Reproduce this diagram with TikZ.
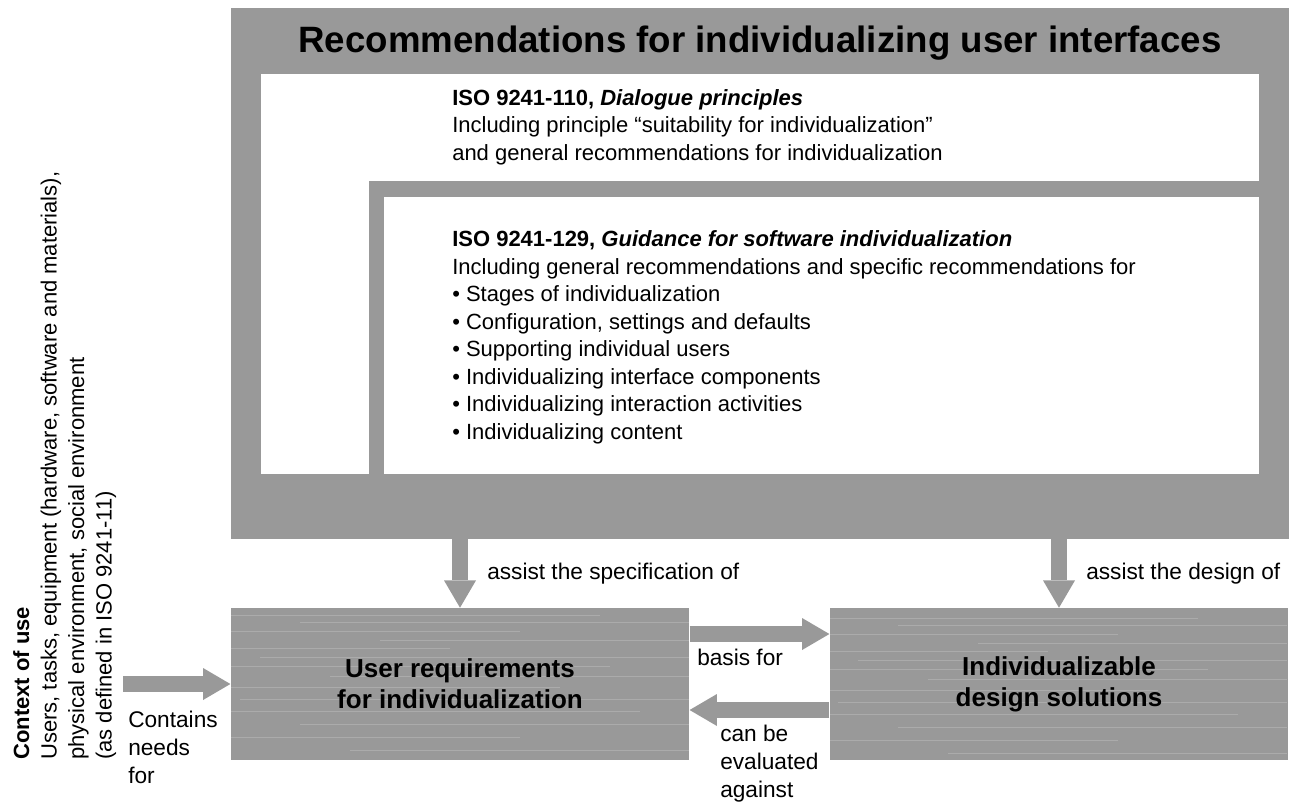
\documentclass[tikz,border=0pt]{standalone}
\usepackage{fontspec}
\setmainfont{Liberation Sans}
\usetikzlibrary{arrows.meta}

\definecolor{boxgray}{RGB}{153,153,153}

\tikzset{
  bigarrow/.style={draw=boxgray, line width=12pt,
    -{Triangle[width=24pt,length=20.5pt,line width=0pt]}},
  graybox/.style={fill=boxgray, inner sep=0pt, minimum width=344pt,
    minimum height=114pt, align=center,
    font=\fontsize{19.5}{23.25}\selectfont\bfseries},
  streak/.style={draw=white, opacity=.18, line width=.6pt},
  note/.style={inner sep=0pt, align=left, font=\fontsize{17}{21}\selectfont},
  body/.style={inner sep=0pt, align=left, font=\fontsize{16.5}{20.6}\selectfont},
}

\begin{document}
\begin{tikzpicture}[x=0.75pt, y=-0.75pt]
  \useasboundingbox (0,0) rectangle (1293,803);

  % frame with the two standards
  \node[fill=boxgray, inner sep=0pt, minimum width=793.5pt, minimum height=398.25pt] (frame) at (760,273.5) {};
  \fill[white] (261,74) rectangle (1259,474);
  \fill[boxgray] (369,181) rectangle (1289,474);
  \fill[white] (384,197) rectangle (1259,474);

  \node[font=\fontsize{27.5}{33}\selectfont\bfseries, anchor=base] (title) at (760,52) {Recommendations for individualizing user interfaces};

  % base of a multi-line node = baseline of its last line
  \node[body, anchor=base west] (iso110) at (452,160) {\textbf{ISO 9241-110, \textit{Dialogue principles}}\\
    Including principle “suitability for individualization”\\
    and general recommendations for individualization};
  \node[body, anchor=base west] (iso129) at (452,439) {\textbf{ISO 9241-129, \textit{Guidance for software individualization}}\\
    Including general recommendations and specific recommendations for\\
    • Stages of individualization\\
    • Configuration, settings and defaults\\
    • Supporting individual users\\
    • Individualizing interface components\\
    • Individualizing interaction activities\\
    • Individualizing content};

  % the two boxes
  \node[graybox] (ureq) at (460,684) {};
  \node[graybox] (design) at (1059,684) {};
  \foreach \y/\a/\b in {615/231/600, 622/300/689, 631/231/520, 640/380/689, 648/231/450,
                       657/260/689, 666/231/610, 676/330/689, 687/231/560, 699/240/689,
                       711/231/640, 724/300/689, 737/231/520, 750/350/689} {
    \draw[streak] (\a,\y) -- (\b,\y);
    \draw[streak] (\a+598,\y+3) -- (\b+598,\y+3);
  }
  \node[graybox, fill=none] (ureqtext) at (ureq) {User requirements\\for individualization};
  \node[graybox, fill=none] (designtext) at (design) {Individualizable\\design solutions};

  \node[body, rotate=90, anchor=north west] (ctxt) at (13,760) {\textbf{Context of use}\\
    Users, tasks, equipment (hardware, software and materials),\\
    physical environment, social environment\\
    (as defined in ISO 9241-11)};
  \coordinate (ctx) at (123,684);

  \draw[bigarrow] (frame.south -| ureq.north) -- (ureq.north);
  \draw[bigarrow] (frame.south -| design.north) -- (design.north);
  \draw[bigarrow] ([yshift=37.5pt]ureq.east) -- ([yshift=37.5pt]design.west);
  \draw[bigarrow] ([yshift=-19.5pt]design.west) -- ([yshift=-19.5pt]ureq.east);
  \draw[bigarrow] (ctx) -- (ureq.west);

  \node[note, anchor=base west] (spec) at (487,579) {assist the specification of};
  \node[note, anchor=base west] (dsgn) at (1086,579) {assist the design of};
  \node[note, anchor=base west] (basis) at (697,665) {basis for};
  \node[note, anchor=base west] (evald) at (720,797) {can be\\evaluated\\against};
  \node[note, anchor=base west] (needs) at (128,783) {Contains\\needs\\for};
\end{tikzpicture}
\end{document}
